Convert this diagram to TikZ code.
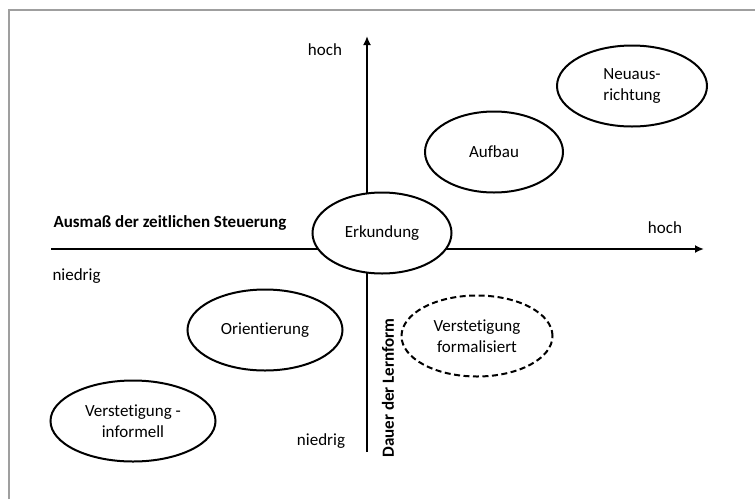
\documentclass[tikz,border=0pt]{standalone}
\usepackage{fontspec}
\setmainfont{Carlito}[Ligatures=NoCommon]
\usetikzlibrary{shapes.geometric,arrows.meta}

\tikzset{
  phase/.style={ellipse,draw,line width=2pt,fill=white,inner sep=0pt,
    minimum width=#1,minimum height=81pt,align=center},
  phase/.default=150pt,
  axis/.style={line width=2.5pt,-{Latex[length=9pt,width=8pt]}},
}

\begin{document}
\begin{tikzpicture}[x=1pt,y=-1pt,font=\fontsize{17}{20.5}\selectfont]
  \useasboundingbox (0,0) rectangle (755,499);
  % frame
  \draw[gray!75,line width=2.5pt] (9,499)--(9,10)--(755,10);

  % axes
  \coordinate (xl) at (51,249);
  \coordinate (xr) at (704,249);
  \coordinate (yb) at (367,452);
  \coordinate (yt) at (367,36);
  \draw[axis] (xl)--(xr);
  \draw[axis] (yb)--(yt);

  \node (hochy) at (325,50) {hoch};
  \node (hochx) at (665,228) {hoch};
  \node[anchor=west,font=\fontsize{17}{20.5}\selectfont\bfseries] (steuer) at (50,223) {Ausmaß der zeitlichen Steuerung};
  \node[anchor=west] (niedx) at (49,276) {niedrig};
  \node (niedy) at (321,441) {niedrig};
  \node[rotate=90,font=\fontsize{17}{20.5}\selectfont\bfseries] (dauer) at (388,388) {Dauer der Lernform};

  % phases
  \node[phase=139pt] (erk) at (382,233) {Erkundung};
  \node[phase=138pt] (auf) at (494,152) {Aufbau};
  \node[phase=150pt] (neu) at (632,86) {Neuaus-\\richtung};
  \node[phase=155pt] (ori) at (265,330) {Orientierung};
  \node[phase=165pt] (vinf) at (133,421) {Verstetigung -\\informell};
  \node[phase=151pt,dash pattern=on 6pt off 3.5pt] (vfor) at (477,336) {Verstetigung\\formalisiert};
\end{tikzpicture}
\end{document}
